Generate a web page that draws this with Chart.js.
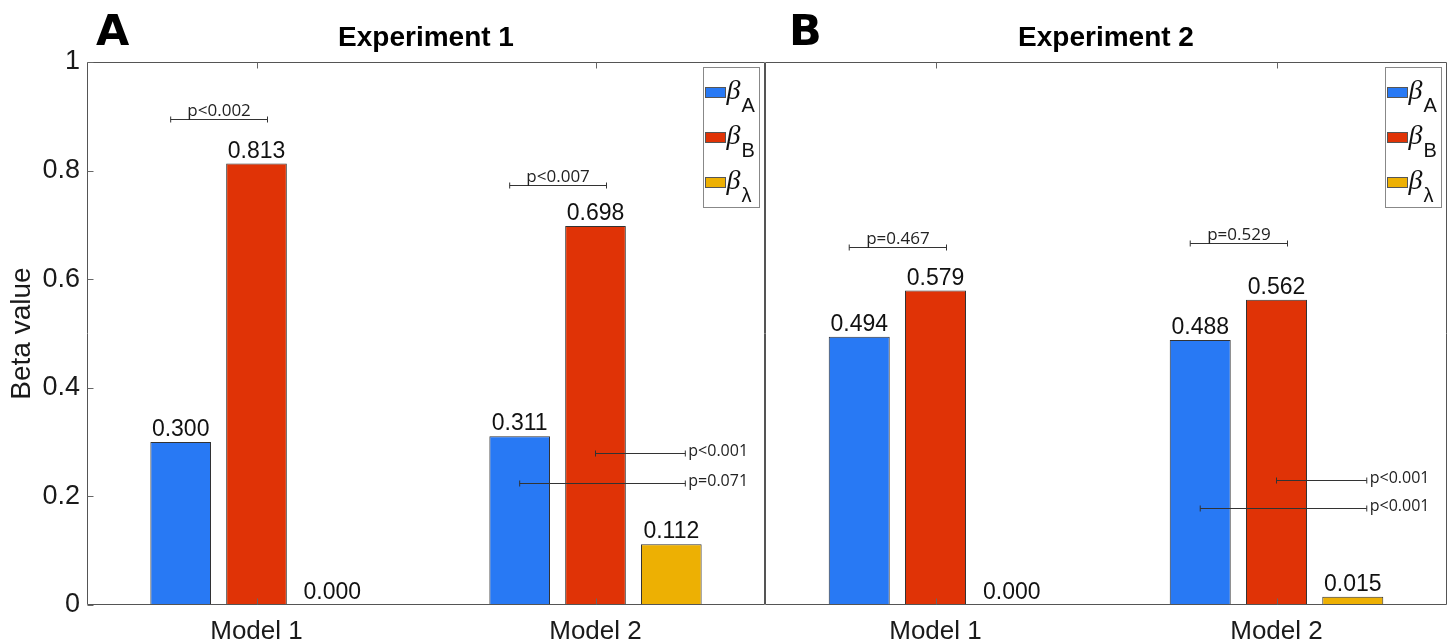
<!DOCTYPE html>
<html><head><meta charset="utf-8">
<script src="https://cdn.jsdelivr.net/npm/chart.js@4.4.0/dist/chart.umd.min.js"></script>
<style>
html,body{margin:0;padding:0;background:#fff;width:1451px;height:643px;overflow:hidden;}
#w1{position:absolute;left:0;top:0;width:770px;height:643px;}
#w2{position:absolute;left:755px;top:0;width:696px;height:643px;}
</style></head><body>
<div id="w1"><canvas id="c1"></canvas></div>
<div id="w2"><canvas id="c2"></canvas></div>
<script>
const categories = ['Model 1', 'Model 2'];
const seriesSubscripts = ['A', 'B', 'λ'];
const exp1BetaA = [0.300, 0.311];
const exp1BetaB = [0.813, 0.698];
const exp1BetaL = [0.000, 0.112];
const exp2BetaA = [0.494, 0.488];
const exp2BetaB = [0.579, 0.562];
const exp2BetaL = [0.000, 0.015];
const yTicks = [0, 0.2, 0.4, 0.6, 0.8, 1];
const exp1Brackets = [{cat: 0, y: 0.895, label: 'p<0.002'}, {cat: 1, y: 0.773, label: 'p<0.007'}];
const exp1Lines = [{cat: 1, from: 1, y: 0.280, label: 'p<0.001'}, {cat: 1, from: 0, y: 0.225, label: 'p=0.071'}];
const exp2Brackets = [{cat: 0, y: 0.659, label: 'p=0.467'}, {cat: 1, y: 0.667, label: 'p=0.529'}];
const exp2Lines = [{cat: 1, from: 1, y: 0.230, label: 'p<0.001'}, {cat: 1, from: 0, y: 0.179, label: 'p<0.001'}];

const COLORS = ['#2879F4', '#E03306', '#EDB003'];
const SANS = '"Liberation Sans", Arial, sans-serif';

function makeDatasets(a, b, l) {
  return [a, b, l].map((d, i) => ({
    label: 'β' + seriesSubscripts[i],
    data: d,
    backgroundColor: COLORS[i],
    borderColor: '#333',
    borderWidth: 1,
    borderSkipped: 'start',
    categoryPercentage: 0.671,
    barPercentage: 0.8
  }));
}

const deco = {
  id: 'deco',
  afterDatasetsDraw(chart, args, opts) {
    const ctx = chart.ctx;
    const ca = chart.chartArea;
    const ys = chart.scales.y, xs = chart.scales.x;
    ctx.save();
    // axes box
    ctx.strokeStyle = '#555';
    ctx.lineWidth = 1;
    const L = Math.round(ca.left) + 0.5, R = Math.round(ca.right) - 0.5;
    const T = Math.round(ca.top) + 0.5, B = Math.round(ca.bottom) - 0.5;
    ctx.beginPath();
    ctx.rect(L, T, R - L, B - T);
    ctx.stroke();
    // inward ticks
    ctx.strokeStyle = '#666';
    ctx.beginPath();
    if (opts.yTicksInside) {
      yTicks.forEach(v => {
        const y = Math.round(ys.getPixelForValue(v)) + 0.5;
        ctx.moveTo(L, y); ctx.lineTo(L + 6, y);
      });
    }
    categories.forEach((c, i) => {
      const x = Math.round(xs.getPixelForValue(i)) + 0.5;
      ctx.moveTo(x, B); ctx.lineTo(x, B - 6);
      ctx.moveTo(x, T); ctx.lineTo(x, T + 6);
    });
    ctx.stroke();

    // value labels
    ctx.fillStyle = '#111';
    ctx.font = '23px ' + SANS;
    ctx.textAlign = 'center';
    ctx.textBaseline = 'alphabetic';
    chart.data.datasets.forEach((ds, di) => {
      const meta = chart.getDatasetMeta(di);
      meta.data.forEach((bar, i) => {
        ctx.fillText(ds.data[i].toFixed(3), bar.x, bar.y - 6);
      });
    });

    const barAt = (di, i) => chart.getDatasetMeta(di).data[i];
    ctx.strokeStyle = '#333';
    ctx.fillStyle = '#222';
    // brackets
    opts.brackets.forEach(b => {
      const x1 = barAt(0, b.cat).x - 10, x2 = barAt(1, b.cat).x + 11;
      const y = Math.round(ys.getPixelForValue(b.y)) + 0.5;
      ctx.beginPath();
      ctx.moveTo(x1, y); ctx.lineTo(x2, y);
      ctx.moveTo(x1, y - 3); ctx.lineTo(x1, y + 3);
      ctx.moveTo(x2, y - 3); ctx.lineTo(x2, y + 3);
      ctx.stroke();
      ctx.font = '17px "Open Sans", sans-serif';
      ctx.textAlign = 'center';
      ctx.textBaseline = 'alphabetic';
      ctx.fillText(b.label, (x1 + x2) / 2, y - 4);
    });
    // side lines
    opts.lines.forEach(l => {
      const x1 = barAt(l.from, l.cat).x, x2 = barAt(2, l.cat).x + 14;
      const y = Math.round(ys.getPixelForValue(l.y)) + 0.5;
      ctx.beginPath();
      ctx.moveTo(x1, y); ctx.lineTo(x2, y);
      ctx.moveTo(x1, y - 3); ctx.lineTo(x1, y + 3);
      ctx.moveTo(x2, y - 3); ctx.lineTo(x2, y + 3);
      ctx.stroke();
      ctx.font = '16px "Open Sans", sans-serif';
      ctx.textAlign = 'left';
      ctx.textBaseline = 'middle';
      ctx.fillText(l.label, x2 + 3, y - 2);
    });

    // legend
    const bw = 56, bh = 140;
    const bx = Math.round(ca.right) - 6 - bw + 0.5, by = Math.round(ca.top) + 5 + 0.5;
    ctx.fillStyle = '#fff';
    ctx.fillRect(bx, by, bw, bh);
    ctx.strokeStyle = '#888';
    ctx.strokeRect(bx, by, bw, bh);
    chart.data.datasets.forEach((ds, i) => {
      const cy = by + 25 + i * 45;
      ctx.fillStyle = ds.backgroundColor;
      ctx.fillRect(bx + 2, cy - 5, 20, 10);
      ctx.strokeStyle = '#555';
      ctx.strokeRect(bx + 2, cy - 5, 20, 10);
      ctx.fillStyle = '#111';
      ctx.textAlign = 'left';
      ctx.textBaseline = 'alphabetic';
      ctx.font = 'italic 28px "Liberation Serif", serif';
      ctx.fillText('β', bx + 23, cy + 6);
      ctx.font = '20px ' + SANS;
      ctx.fillText(seriesSubscripts[i], bx + 38, cy + 19);
    });

    // title and panel letter
    ctx.fillStyle = '#000';
    ctx.font = 'bold 28px ' + SANS;
    ctx.textAlign = 'center';
    ctx.textBaseline = 'alphabetic';
    ctx.fillText(opts.title, (ca.left + ca.right) / 2, 46);
    ctx.font = 'bold 43px "DejaVu Sans", sans-serif';
    ctx.textAlign = 'left';
    ctx.fillText(opts.letter, opts.letterX, 45);
    ctx.restore();
  }
};

function makeChart(id, datasets, extra, isLeft) {
  return new Chart(document.getElementById(id), {
    type: 'bar',
    data: {labels: categories, datasets: datasets},
    plugins: [deco],
    options: {
      responsive: true,
      maintainAspectRatio: false,
      animation: false,
      devicePixelRatio: 1,
      layout: {padding: {top: 62, right: isLeft ? 5 : 4, left: 0, bottom: 0}},
      plugins: {
        legend: {display: false},
        tooltip: {enabled: false},
        deco: extra
      },
      scales: {
        x: {
          grid: {display: false, drawTicks: false},
          border: {display: false},
          ticks: {font: {family: SANS, size: 26}, color: '#1a1a1a', padding: 11},
          afterFit(s) { s.height = 38; }
        },
        y: {
          min: 0, max: 1,
          afterBuildTicks(s) { s.ticks = yTicks.map(v => ({value: v})); },
          grid: {display: false, drawTicks: false},
          border: {display: false},
          ticks: {display: isLeft, font: {family: SANS, size: 27}, color: '#1a1a1a', padding: 7,
                  callback: v => String(v)},
          title: {display: isLeft, text: 'Beta value', color: '#1a1a1a', font: {family: SANS, size: 28}, padding: {top: 5, bottom: 0}},
          afterFit(s) { s.width = isLeft ? 87 : 10; }
        }
      }
    }
  });
}

makeChart('c1', makeDatasets(exp1BetaA, exp1BetaB, exp1BetaL),
  {title: 'Experiment 1', letter: 'A', letterX: 96, brackets: exp1Brackets, lines: exp1Lines, yTicksInside: true}, true);
makeChart('c2', makeDatasets(exp2BetaA, exp2BetaB, exp2BetaL),
  {title: 'Experiment 2', letter: 'B', letterX: 34, brackets: exp2Brackets, lines: exp2Lines, yTicksInside: false}, false);
</script>
</body></html>
